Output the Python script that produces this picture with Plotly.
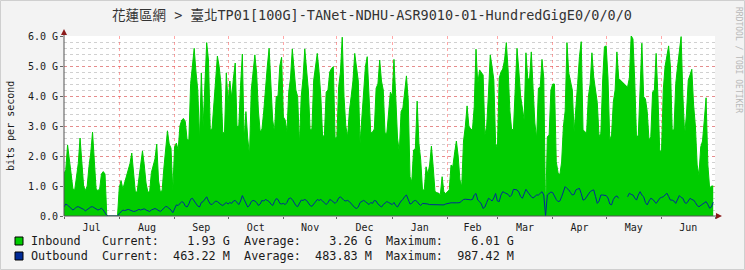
import pandas as pd
import plotly.graph_objects as go

# ---------------- data (G bits per second, one value per day) ----------------
start_date = "2022-07-01"
end_date = "2023-07-01"

in_jul = [1.40,1.55,2.37,1.95,1.40,0.90,0.87,1.30,1.75,2.60,1.90,1.00,0.85,1.00,1.65,2.10,2.80,1.70,0.90,0.85,0.90,1.40,1.48,1.40,0,0,0,0,0,0,0]
in_aug = [0.95,1.18,0.90,1.10,1.35,1.55,1.75,2.10,1.40,0.80,0.80,1.30,1.60,2.17,1.70,1.10,0.80,0.80,1.45,1.70,1.90,2.40,1.20,0.80,0.85,1.60,2.30,2.84,2.40,2.26,0.85]
in_sep = [2.30,2.43,2.20,3.00,3.20,3.25,3.15,2.55,2.53,4.42,5.00,5.59,4.80,4.20,2.53,4.77,2.98,4.50,5.78,5.20,2.87,2.90,3.80,4.42,5.33,4.98,4.40,2.76,2.80,4.77]
in_oct = [3.78,4.50,3.94,4.60,5.10,2.98,3.00,4.36,5.40,2.53,3.48,2.60,2.03,4.20,4.90,5.37,4.77,3.50,2.80,2.90,3.50,4.31,5.00,5.59,4.09,3.20,2.80,3.98,4.00,5.00,5.29]
in_nov = [3.30,3.20,2.80,4.13,4.60,5.57,4.98,4.20,3.98,2.37,3.98,4.59,5.57,4.77,4.20,2.87,2.90,4.53,4.90,5.42,4.82,3.98,2.64,2.70,4.13,4.20,4.80,4.92,4.98,2.59]
in_dec = [2.64,4.31,4.80,5.96,3.98,3.00,2.64,3.50,3.98,4.50,5.42,4.90,4.50,2.42,3.30,3.98,4.98,5.31,3.98,2.76,2.80,2.90,4.26,4.40,5.20,4.50,4.20,2.76,2.76,3.50,4.13]
in_jan = [4.00,5.22,3.98,2.60,2.14,3.48,3.60,4.20,4.67,3.87,1.31,1.14,2.20,2.25,3.83,2.42,1.87,0.87,0.87,1.64,1.40,1.70,2.33,1.64,0.82,0.78,0.75,0.72,1.31,0.80,0.75]
in_feb = [0.80,0.87,1.70,1.65,2.10,2.50,2.00,1.20,0.98,2.50,2.98,3.67,3.00,2.90,2.87,3.64,5.56,4.40,4.87,4.80,4.70,2.70,3.00,4.10,5.37,4.98,4.53,2.42]
in_mar = [2.26,4.59,4.80,4.90,5.20,5.78,4.87,3.50,2.87,2.90,4.53,5.59,4.87,4.00,3.60,3.20,5.44,4.60,4.53,5.47,4.26,3.10,2.59,4.26,4.30,5.22,4.60,0.05,2.64,2.70,4.20]
in_apr = [4.40,4.40,1.81,1.45,1.37,1.80,2.98,3.50,5.78,4.77,4.50,4.20,2.80,3.50,4.42,5.31,5.81,2.87,2.80,2.76,3.98,4.40,5.44,4.63,4.20,3.78,2.64,2.76,4.50,5.64]
in_may = [5.67,4.60,2.53,2.70,3.80,4.20,5.47,4.60,None,None,None,None,4.31,4.60,6.01,5.90,4.50,2.59,2.70,4.60,5.76,3.98,3.90,3.48,2.53,2.64,4.13,4.20,5.42,4.00,2.20]
in_jun = [2.10,4.20,4.98,5.40,5.67,4.98,2.87,2.87,4.42,4.98,5.50,5.98,3.98,2.70,3.40,4.53,4.70,4.89,3.70,3.00,1.70,1.37,2.30,2.50,3.20,3.94,1.70,0.93,1.00,1.00]

out_jul = [0.30,0.40,0.36,0.31,0.26,0.20,0.24,0.30,0.31,0.28,0.26,0.22,0.17,0.22,0.26,0.30,0.31,0.28,0.24,0.20,0.22,0.26,0.20,0.12,0.02,0,0,0,0,0,0]
out_aug = [0.08,0.15,0.20,0.18,0.20,0.22,0.20,0.18,0.15,0.16,0.20,0.22,0.20,0.22,0.24,0.20,0.16,0.15,0.20,0.24,0.25,0.22,0.18,0.15,0.20,0.28,0.32,0.30,0.26,0.20,0.11]
out_sep = [0.25,0.37,0.35,0.40,0.48,0.45,0.33,0.30,0.40,0.56,0.59,0.50,0.40,0.33,0.30,0.45,0.48,0.55,0.64,0.50,0.40,0.38,0.45,0.50,0.48,0.42,0.38,0.35,0.40,0.45]
out_oct = [0.40,0.45,0.42,0.50,0.52,0.45,0.38,0.50,0.68,0.55,0.42,0.30,0.35,0.48,0.52,0.50,0.45,0.35,0.40,0.52,0.50,0.55,0.52,0.48,0.40,0.35,0.48,0.58,0.55,0.42,0.40]
out_nov = [0.42,0.38,0.45,0.58,0.60,0.55,0.45,0.35,0.31,0.45,0.53,0.52,0.55,0.52,0.45,0.35,0.32,0.40,0.50,0.55,0.52,0.55,0.50,0.42,0.38,0.45,0.55,0.52,0.48,0.42]
out_dec = [0.48,0.60,0.64,0.58,0.52,0.50,0.52,0.48,0.40,0.35,0.28,0.25,0.30,0.45,0.50,0.52,0.48,0.42,0.38,0.45,0.42,0.52,0.50,0.40,0.35,0.30,0.38,0.42,0.48,0.45,0.40]
out_jan = [0.38,0.45,0.35,0.30,0.40,0.50,0.55,0.65,0.70,0.55,0.40,0.42,0.50,0.52,0.48,0.40,0.35,0.42,0.42,0.40,0.40,0.38,0.38,0.37,0.36,0.36,0.36,0.36,0.36,0.37,0.40]
out_feb = [0.42,0.44,0.44,0.44,0.45,0.44,0.44,0.45,0.50,0.55,0.56,0.55,0.55,0.54,0.55,0.70,0.75,0.53,0.48,0.40,0.25,0.30,0.45,0.59,0.55,0.50,0.60,0.75]
out_mar = [0.50,0.48,0.70,0.81,0.78,0.76,0.72,0.64,0.70,0.89,0.88,0.87,0.80,0.65,0.59,0.75,0.89,0.80,0.70,0.64,0.60,0.65,0.70,0.70,0.75,0.81,0.70,0.00,0.70,0.76,0.80]
out_apr = [0.78,0.64,0.55,0.48,0.50,0.64,0.80,0.98,0.92,0.87,0.78,0.70,0.72,0.87,0.90,0.92,0.75,0.53,0.55,0.64,0.72,0.81,0.85,0.87,0.65,0.42,0.50,0.70,0.70,0.70]
out_may = [0.68,0.60,0.40,0.37,0.55,0.64,0.67,0.59,None,None,None,None,0.64,0.76,0.72,0.70,0.60,0.53,0.70,0.81,0.70,0.64,0.45,0.37,0.50,0.59,0.56,0.48,0.42,0.50,0.59]
out_jun = [0.62,0.64,0.70,0.76,0.65,0.53,0.53,0.50,0.42,0.55,0.68,0.62,0.59,0.45,0.42,0.50,0.59,0.55,0.53,0.45,0.35,0.31,0.35,0.40,0.45,0.48,0.38,0.26,0.30,0.46]

y_tick_vals = [0, 1, 2, 3, 4, 5, 6]
y_tick_text = ["0.0", "1.0 G", "2.0 G", "3.0 G", "4.0 G", "5.0 G", "6.0 G"]

legend_names = ["Inbound", "Outbound"]
legend_colors = ["#00CC00", "#002A97"]
legend_current = ["1.93 G", "463.22 M"]
legend_average = ["3.26 G", "483.83 M"]
legend_maximum = ["6.01 G", "987.42 M"]

title_text = "花蓮區網 > 臺北TP01[100G]-TANet-NDHU-ASR9010-01-HundredGigE0/0/0/0"
y_title = "bits per second"
watermark = "RRDTOOL / TOBI OETIKER"

inbound = in_jul + in_aug + in_sep + in_oct + in_nov + in_dec + in_jan + in_feb + in_mar + in_apr + in_may + in_jun
outbound = out_jul + out_aug + out_sep + out_oct + out_nov + out_dec + out_jan + out_feb + out_mar + out_apr + out_may + out_jun
dates = pd.date_range(start_date, periods=len(inbound), freq="D")
assert len(inbound) == 365 and len(outbound) == 365

# ---------------- layout geometry (pixels) ----------------
W, H = 745, 270
PL, PR, PT, PB = 64, 715, 36, 216
pw, ph = PR - PL, PB - PT


def px(xp):
    return (xp - PL) / pw


def py(yp):
    return (PB - yp) / ph


MONO = "DejaVu Sans Mono"
TXT = "#1a1a1a"

fig = go.Figure()
fig.add_trace(go.Scatter(x=dates, y=inbound, mode="lines", fill="tozeroy",
                         line=dict(color="#00CC00", width=1), fillcolor="#00CC00",
                         connectgaps=False, hoverinfo="skip"))
fig.add_trace(go.Scatter(x=dates, y=outbound, mode="lines",
                         line=dict(color="#002A97", width=1),
                         connectgaps=False, hoverinfo="skip"))

fig.update_layout(
    width=W, height=H,
    margin=dict(l=PL, r=W - PR, t=PT, b=H - PB, pad=0),
    paper_bgcolor="#F3F3F3", plot_bgcolor="#FFFFFF",
    showlegend=False,
    xaxis=dict(type="date", range=[start_date, end_date], dtick="M1", tick0=start_date,
               tickformat="%b", ticklabelmode="period", showgrid=True,
               gridcolor="rgba(255,60,60,0.45)", griddash="dot", gridwidth=1,
               ticks="outside", ticklen=2, tickcolor="#666",
               tickfont=dict(family=MONO, size=10, color=TXT),
               showline=False, zeroline=False, fixedrange=True),
    yaxis=dict(range=[0, 6], tickvals=y_tick_vals, ticktext=y_tick_text,
               showgrid=True, gridcolor="rgba(255,60,60,0.45)", griddash="dot", gridwidth=1,
               ticks="outside", ticklen=3, tickcolor="#666",
               tickfont=dict(family=MONO, size=10, color=TXT),
               minor=dict(dtick=0.2, showgrid=True, gridcolor="rgba(150,150,150,0.45)",
                          griddash="dot", gridwidth=1),
               showline=False, zeroline=False, fixedrange=True),
)

shapes = []
# axes with arrows
shapes.append(dict(type="line", xref="paper", yref="paper", x0=px(64), x1=px(64), y0=py(216), y1=py(31),
                   line=dict(color="#555555", width=1)))
shapes.append(dict(type="line", xref="paper", yref="paper", x0=px(64), x1=px(719), y0=py(216), y1=py(216),
                   line=dict(color="#555555", width=1)))
shapes.append(dict(type="path", xref="paper", yref="paper",
                   path=f"M {px(61)},{py(35)} L {px(67)},{py(35)} L {px(64)},{py(29)} Z",
                   fillcolor="#8B1A1A", line=dict(width=0)))
shapes.append(dict(type="path", xref="paper", yref="paper",
                   path=f"M {px(716)},{py(213)} L {px(716)},{py(219)} L {px(722)},{py(216)} Z",
                   fillcolor="#8B1A1A", line=dict(width=0)))
# frame
shapes.append(dict(type="rect", xref="paper", yref="paper", x0=px(0.5), x1=px(744.5), y0=py(0.5), y1=py(269.5),
                   line=dict(color="#CFCFCF", width=1), fillcolor="rgba(0,0,0,0)"))

annotations = []
annotations.append(dict(text=title_text, xref="paper", yref="paper", x=px(372), y=py(15),
                        xanchor="center", yanchor="middle", showarrow=False,
                        font=dict(family=MONO + ", Noto Sans CJK TC", size=13.5, color="#333")))
annotations.append(dict(text=y_title, xref="paper", yref="paper", x=px(10), y=py(126),
                        xanchor="center", yanchor="middle", textangle=-90, showarrow=False,
                        font=dict(family=MONO, size=10, color=TXT)))
annotations.append(dict(text=watermark, xref="paper", yref="paper", x=px(738), y=py(60),
                        xanchor="center", yanchor="middle", textangle=90, showarrow=False,
                        font=dict(family=MONO, size=8, color="#B8B8B8")))

row_y = [241, 256]
for i, name in enumerate(legend_names):
    yy = row_y[i]
    shapes.append(dict(type="rect", xref="paper", yref="paper", x0=px(15), x1=px(23),
                       y0=py(yy + 4), y1=py(yy - 4), fillcolor=legend_colors[i],
                       line=dict(color="#000000", width=1)))
    line_txt = (f"{name:<10}Current:{legend_current[i]:>10}  Average:{legend_average[i]:>10}"
                f"  Maximum:{legend_maximum[i]:>10}")
    annotations.append(dict(text=line_txt.replace(" ", "\u00a0"), xref="paper", yref="paper",
                            x=px(29), y=py(yy), xanchor="left", yanchor="middle", showarrow=False,
                            font=dict(family=MONO, size=11.8, color=TXT)))

fig.update_layout(shapes=shapes, annotations=annotations)
fig.write_html("out.html", config=dict(displayModeBar=False, staticPlot=True))
